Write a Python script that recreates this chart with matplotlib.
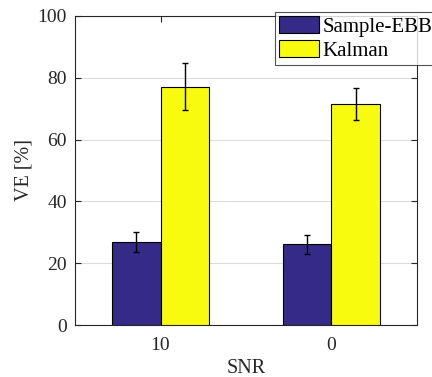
import matplotlib.pyplot as plt
import numpy as np

plt.rcParams['font.family'] = ['Liberation Serif', 'DejaVu Serif']

# dados
snr_labels = ['10', '0']
series_names = ['Sample-EBB', 'Kalman']
ve_sample = [26.8, 26.1]
ve_kalman = [77.1, 71.5]
err_sample = [3.2, 3.0]
err_kalman = [7.6, 5.1]

fig = plt.figure(figsize=(4.32, 3.77), dpi=100)
ax = fig.add_axes([75 / 432, 1 - 325 / 377, 342 / 432, 309 / 377])

x = np.arange(1, len(snr_labels) + 1)
w = 0.286
ax.bar(x - w / 2, ve_sample, w, color='#352a87', edgecolor='black', linewidth=0.8,
       label=series_names[0], zorder=3)
ax.bar(x + w / 2, ve_kalman, w, color='#f9fb0e', edgecolor='black', linewidth=0.8,
       label=series_names[1], zorder=3)
ax.errorbar(x - w / 2, ve_sample, yerr=err_sample, fmt='none', ecolor='black',
            elinewidth=1, capsize=2, zorder=4)
ax.errorbar(x + w / 2, ve_kalman, yerr=err_kalman, fmt='none', ecolor='black',
            elinewidth=1, capsize=2, zorder=4)

ax.set_xlim(0.5, 2.5)
ax.set_ylim(0, 100)
ax.set_xticks(x)
ax.set_xticklabels(snr_labels)
ax.set_yticks(range(0, 101, 20))
ax.yaxis.grid(True, color='#dcdcdc', linewidth=0.8, zorder=0)
ax.set_axisbelow(True)
ax.tick_params(direction='in', labelsize=14, right=True, top=True, color='#262626',
               labelcolor='#262626', length=4)
ax.tick_params(axis='x', pad=9)
ax.tick_params(axis='y', pad=6)
for s in ax.spines.values():
    s.set_color('#262626')
    s.set_linewidth(0.8)
ax.set_xlabel('SNR', fontsize=14.5, color='#262626', labelpad=3)
ax.set_ylabel('VE [%]', fontsize=14.5, color='#262626', labelpad=3)

leg = fig.legend(loc='upper left', bbox_to_anchor=(275 / 432, 1 - 12 / 377),
                 fontsize=15, frameon=True, fancybox=False, handlelength=1.92,
                 handleheight=0.87, borderpad=0.2, labelspacing=0.15,
                 handletextpad=0.15, borderaxespad=0)
leg.get_frame().set_edgecolor('#262626')
leg.get_frame().set_linewidth(0.8)

plt.savefig('out.png')
